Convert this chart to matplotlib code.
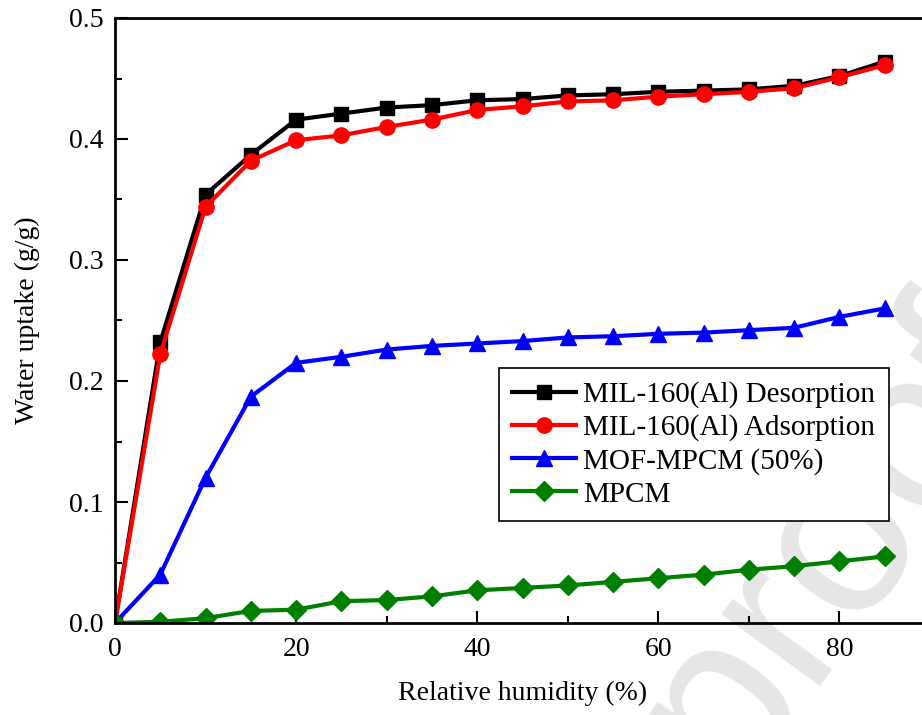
import matplotlib
matplotlib.use("Agg")
import matplotlib.pyplot as plt
from matplotlib.ticker import MultipleLocator

plt.rcParams['font.family'] = ['Liberation Serif', 'DejaVu Serif']

# relative humidity steps (%)
rh = [0, 5, 10, 15, 20, 25, 30, 35, 40, 45, 50, 55, 60, 65, 70, 75, 80, 85]

# water uptake (g/g)
mil_desorption = [0.0, 0.232, 0.354, 0.387, 0.416, 0.421, 0.426, 0.428, 0.432,
                  0.433, 0.436, 0.437, 0.439, 0.440, 0.441, 0.444, 0.452, 0.464]
mil_adsorption = [0.0, 0.222, 0.344, 0.382, 0.399, 0.403, 0.410, 0.416, 0.424,
                  0.427, 0.431, 0.432, 0.435, 0.437, 0.439, 0.442, 0.451, 0.461]
mof_mpcm = [0.0, 0.040, 0.120, 0.187, 0.215, 0.220, 0.226, 0.229, 0.231,
            0.233, 0.236, 0.237, 0.239, 0.240, 0.242, 0.244, 0.253, 0.260]
mpcm = [0.0, 0.001, 0.004, 0.010, 0.011, 0.018, 0.019, 0.022, 0.027,
        0.029, 0.031, 0.034, 0.037, 0.040, 0.044, 0.047, 0.051, 0.055]

labels = ['MIL-160(Al) Desorption', 'MIL-160(Al) Adsorption',
          'MOF-MPCM (50%)', 'MPCM']

fig = plt.figure(figsize=(9.22, 7.15), dpi=100)

# faint diagonal stamp behind the plot
fig.text(0.792, -0.105, 'proof', fontsize=166, color='#e6e6e6',
         family='Liberation Sans', rotation=54, rotation_mode='anchor',
         ha='left', va='baseline', zorder=0)

# axes run a little past the right edge of the canvas
ax = fig.add_axes([115 / 922, 1 - 623 / 715, 815 / 922, 605 / 715])
ax.set_zorder(2)
ax.patch.set_alpha(0)

ax.plot(rh, mil_desorption, color='black', lw=3, marker='s', ms=10, label=labels[0])
ax.plot(rh, mil_adsorption, color='red', lw=3, marker='o', ms=11, label=labels[1])
ax.plot(rh, mof_mpcm, color='blue', lw=3, marker='^', ms=11, label=labels[2])
ax.plot(rh, mpcm, color='green', lw=3, marker='D', ms=10, label=labels[3])

ax.set_xlim(0, 90)
ax.set_ylim(0, 0.5)
ax.xaxis.set_major_locator(MultipleLocator(20))
ax.xaxis.set_minor_locator(MultipleLocator(10))
ax.yaxis.set_major_locator(MultipleLocator(0.1))
ax.yaxis.set_minor_locator(MultipleLocator(0.05))
ax.yaxis.set_major_formatter(plt.FormatStrFormatter('%.1f'))
ax.tick_params(which='both', direction='in', top=False, right=False,
               width=1.5, labelsize=20)
ax.tick_params(which='major', length=9)
ax.tick_params(which='minor', length=5)
ax.tick_params(axis='x', pad=10)
ax.tick_params(axis='y', pad=8)
for s in ax.spines.values():
    s.set_linewidth(2)

ax.set_xlabel('Relative humidity (%)', fontsize=20, labelpad=14)
ax.set_ylabel('Water uptake (g/g)', fontsize=20, labelpad=21)

leg = ax.legend(loc='upper left', bbox_to_anchor=(0.471, 0.4215), fontsize=21,
                frameon=True, fancybox=False, edgecolor='black', framealpha=1,
                handlelength=2.2, handletextpad=0.25, labelspacing=0.22,
                borderpad=0.45, borderaxespad=0)
leg.get_frame().set_linewidth(1.2)

fig.savefig('out.png', dpi=100)
